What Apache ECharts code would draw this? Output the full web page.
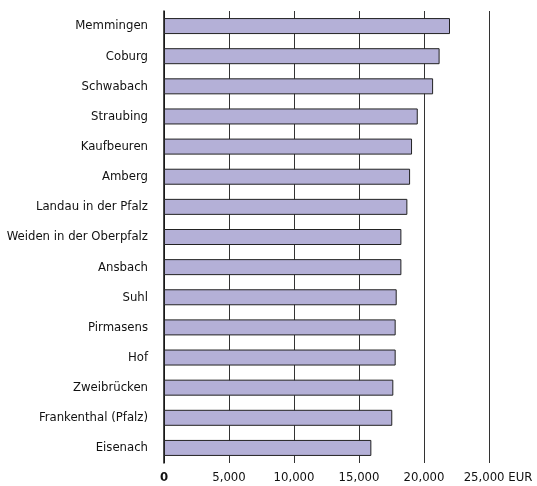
<!DOCTYPE html>
<html>
<head>
<meta charset="utf-8">
<script src="https://cdn.jsdelivr.net/npm/echarts@6/dist/echarts.min.js"></script>
<style>
  html, body { margin: 0; padding: 0; background: #fff; }
  #chart { width: 537px; height: 486px; }
</style>
</head>
<body>
<div id="chart"></div>
<script>
// cities, top to bottom
var cities = ['Memmingen', 'Coburg', 'Schwabach', 'Straubing', 'Kaufbeuren', 'Amberg',
  'Landau in der Pfalz', 'Weiden in der Oberpfalz', 'Ansbach', 'Suhl', 'Pirmasens',
  'Hof', 'Zweibrücken', 'Frankenthal (Pfalz)', 'Eisenach']
// EUR per inhabitant
var values = [22000, 21200, 20700, 19520, 19080, 18930, 18720, 18260, 18260, 17900,
  17820, 17820, 17640, 17560, 15950]
var tickLabels = ['0', '5,000', '10,000', '15,000', '20,000', '25,000 EUR']

var font = '"DejaVu Sans Condensed", "DejaVu Sans", sans-serif'
var chart = echarts.init(document.getElementById('chart'))

chart.setOption({
  animation: false,
  grid: {
    left: 164,
    right: 48,
    top: 11,
    bottom: 23,
    containLabel: false,
    outerBoundsMode: 'none'
  },
  xAxis: {
    type: 'value',
    min: 0,
    max: 25000,
    interval: 5000,
    axisLine: { show: false },
    axisTick: { show: false },
    splitLine: {
      show: true,
      lineStyle: { color: '#333', width: 1 }
    },
    axisLabel: {
      margin: 8,
      color: '#111',
      fontFamily: font,
      fontSize: 13,
      showMaxLabel: true,
      hideOverlap: false,
      formatter: function (v) {
        var i = Math.round(v / 5000)
        if (i === 0) return '{b|' + tickLabels[i] + '}'
        if (i === 5) return '{r|' + tickLabels[i] + '}'
        return tickLabels[i]
      },
      rich: {
        b: { fontWeight: 'bold', fontFamily: font, fontSize: 13, color: '#111' },
        r: { fontFamily: font, fontSize: 13, color: '#111', padding: [0, 0, 0, 18] }
      }
    }
  },
  yAxis: {
    type: 'category',
    inverse: true,
    data: cities,
    axisTick: { show: false },
    axisLine: {
      show: true,
      lineStyle: { color: '#111', width: 1.5 }
    },
    axisLabel: {
      margin: 16,
      color: '#111',
      fontFamily: font,
      fontSize: 13
    }
  },
  series: [{
    type: 'bar',
    data: values,
    barWidth: 16,
    itemStyle: {
      color: '#b4b0d7',
      borderColor: '#222',
      borderWidth: 1
    }
  }]
})
</script>
</body>
</html>
